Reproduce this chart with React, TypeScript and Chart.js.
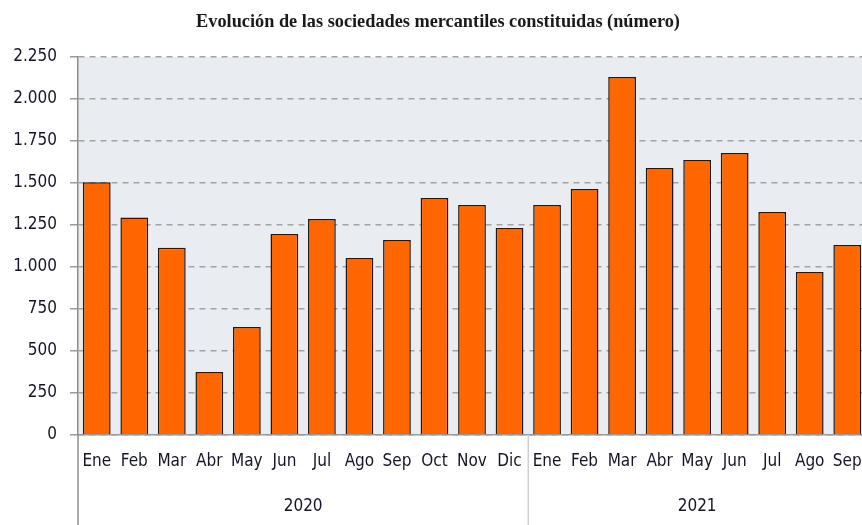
import React, { useEffect, useRef } from "react";
import { Chart, registerables } from "chart.js";

Chart.register(...registerables);

const TITLE = "Evolución de las sociedades mercantiles constituidas (número)";
const YEARS = ["2020", "2021"];
const MONTHS_2020 = ["Ene", "Feb", "Mar", "Abr", "May", "Jun", "Jul", "Ago", "Sep", "Oct", "Nov", "Dic"];
const MONTHS_2021 = ["Ene", "Feb", "Mar", "Abr", "May", "Jun", "Jul", "Ago", "Sep"];
const VALUES_2020 = [1505, 1295, 1115, 375, 643, 1196, 1286, 1054, 1161, 1411, 1369, 1232];
const VALUES_2021 = [1369, 1464, 2131, 1589, 1637, 1679, 1327, 970, 1131];
const Y_MAX = 2250;
const Y_STEP = 250;

const labels = [...MONTHS_2020, ...MONTHS_2021];
const values = [...VALUES_2020, ...VALUES_2021];
const groups = [
  { label: YEARS[0], start: 0, end: MONTHS_2020.length - 1 },
  { label: YEARS[1], start: MONTHS_2020.length, end: MONTHS_2020.length + MONTHS_2021.length - 1 },
];

const FONT = "'DejaVu Sans Condensed', 'DejaVu Sans', sans-serif";
const TEXT = "#15152a";

const decor = {
  id: "decor",
  beforeDraw(chart: any) {
    const { ctx, chartArea } = chart;
    ctx.save();
    ctx.fillStyle = "#e9ecf0";
    ctx.fillRect(chartArea.left, chartArea.top, chartArea.right - chartArea.left, chartArea.bottom - chartArea.top);
    ctx.restore();
  },
  afterDraw(chart: any) {
    const { ctx, chartArea } = chart;
    const x = chart.scales.x;
    const H = chart.height;
    ctx.save();
    // title
    ctx.fillStyle = "#1a1a1a";
    ctx.font = "bold 18.3px 'Liberation Serif', serif";
    ctx.textAlign = "center";
    ctx.textBaseline = "middle";
    ctx.fillText(TITLE, 438, 22);
    // left axis extension
    ctx.strokeStyle = "#8c8c8c";
    ctx.lineWidth = 1.5;
    ctx.beginPath();
    ctx.moveTo(chartArea.left, chartArea.bottom);
    ctx.lineTo(chartArea.left, H);
    ctx.stroke();
    // group separators and labels
    ctx.font = "17px " + FONT;
    ctx.fillStyle = TEXT;
    groups.forEach((g, gi) => {
      const half = (x.getPixelForValue(1) - x.getPixelForValue(0)) / 2;
      const left = x.getPixelForValue(g.start) - half;
      const right = x.getPixelForValue(g.end) + half;
      ctx.fillText(g.label, (left + right) / 2, 507);
      if (gi > 0) {
        ctx.strokeStyle = "#cfcfcf";
        ctx.lineWidth = 1.5;
        ctx.beginPath();
        ctx.moveTo(left, chartArea.bottom);
        ctx.lineTo(left, H);
        ctx.stroke();
      }
    });
    ctx.restore();
  },
};

export default function App() {
  const ref = useRef<HTMLCanvasElement>(null);
  useEffect(() => {
    const chart = new Chart(ref.current!, {
      type: "bar",
      data: {
        labels,
        datasets: [
          {
            data: values,
            backgroundColor: "#ff6600",
            borderColor: "#1a1a1a",
            borderWidth: 1.5,
            borderSkipped: "bottom",
            categoryPercentage: 1,
            barPercentage: 0.74,
          },
        ],
      },
      options: {
        responsive: false,
        animation: false,
        layout: { padding: { top: 57, right: 4, left: 0, bottom: 0 } },
        plugins: { legend: { display: false }, title: { display: false }, tooltip: { enabled: false } },
        scales: {
          x: {
            grid: { display: false, drawTicks: false },
            border: { display: true, color: "#9a9a9a", width: 1.5 },
            ticks: { color: TEXT, font: { family: FONT, size: 17 }, padding: 16, maxRotation: 0, autoSkip: false },
            afterFit(s: any) {
              s.height = 90;
              s.paddingLeft = 0;
              s.paddingRight = 0;
            },
          },
          y: {
            min: 0,
            max: Y_MAX,
            ticks: {
              stepSize: Y_STEP,
              color: TEXT,
              font: { family: FONT, size: 17 },
              padding: 13,
              callback: (v: any) => Number(v).toLocaleString("de-DE"),
            },
            grid: {
              color: "#a3a3a3",
              lineWidth: 1.5,
              tickLength: 8,
              tickBorderDash: [],
              tickColor: "#9a9a9a",
              borderDash: [6, 5],
            } as any,
            border: { display: true, color: "#8c8c8c", width: 1.5, dash: [6, 5] },
            afterFit(s: any) {
              s.width = 78;
              s.paddingTop = 0;
              s.paddingBottom = 0;
            },
          },
        },
      },
      plugins: [decor],
    });
    return () => chart.destroy();
  }, []);
  return (
    <div style={{ position: "absolute", left: 0, top: 0, width: 862, height: 525, overflow: "hidden", background: "#fff" }}>
      <canvas ref={ref} width={870} height={525} style={{ width: 870, height: 525 }} />
    </div>
  );
}
